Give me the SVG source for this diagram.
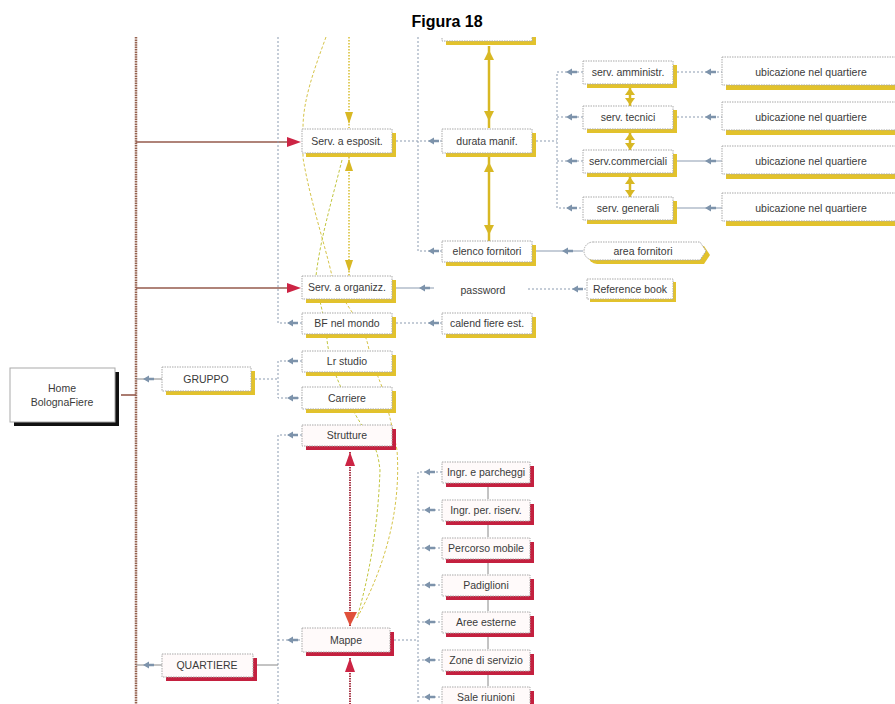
<svg xmlns="http://www.w3.org/2000/svg" xmlns:xlink="http://www.w3.org/1999/xlink" width="895" height="704" viewBox="0 0 895 704">
<style>
.t{font-family:"Liberation Sans",Arial,sans-serif;font-size:10.5px;fill:#3a3a3a;text-anchor:middle;dominant-baseline:central}
.title{font-family:"Liberation Sans",Arial,sans-serif;font-size:16px;font-weight:bold;fill:#000;text-anchor:middle}
.bx{fill:#fff;stroke:#a9a9a9;stroke-width:1;stroke-dasharray:1.5 1}
.rbx{fill:#fffafa;stroke:#a9a9a9;stroke-width:1;stroke-dasharray:1.5 1}
.ys{fill:#e2c22c}
.rs{fill:#c4203f}
.ks{fill:#111}
.dot{fill:none;stroke:#8b9bb0;stroke-width:1;stroke-dasharray:2 2}
.sol{fill:none;stroke:#8b9bb0;stroke-width:1}
.gl{fill:none;stroke:#888;stroke-width:1}
.brown{fill:none;stroke:#955a4c;stroke-width:1.6}
.trunk{fill:none;stroke:#95624f;stroke-width:2.5;stroke-dasharray:1.6 0.8}
.yl{fill:none;stroke:#d8b824;stroke-width:2.5}
.yd{fill:none;stroke:#d8bf30;stroke-width:1.5;stroke-dasharray:1.5 1.5}
.yc{fill:none;stroke:#d6c44a;stroke-width:1;stroke-dasharray:3 2}
.ya{fill:#d8b824}
.rl{fill:none;stroke:#a83a4a;stroke-width:2;stroke-dasharray:1.5 1}
.ra{fill:#cc2444}
.ba{fill:#7d93ab}
</style>
<defs>
<path id="ba" d="M0,0 L6,-3.5 L6,-1.2 L11,-1.2 L11,1.2 L6,1.2 L6,3.5 Z"/>
<clipPath id="clip"><rect x="0" y="37" width="895" height="667"/></clipPath>
</defs>
<text class="title" x="447" y="27">Figura 18</text>
<g clip-path="url(#clip)">
<g id="connectors">
<line class="trunk" x1="136" y1="37" x2="136" y2="704"/>
<line class="brown" x1="136" y1="142" x2="288" y2="142"/>
<polygon class="ra" points="301,142 287,137 287,147"/>
<line class="brown" x1="136" y1="288" x2="288" y2="288"/>
<polygon class="ra" points="301,288 287,283 287,293"/>
<line class="brown" x1="121" y1="395" x2="136" y2="395"/>
<line class="gl" x1="136" y1="379" x2="162" y2="379"/>
<use class="ba" xlink:href="#ba" x="143" y="379"/>
<line class="gl" x1="136" y1="665" x2="162" y2="665"/>
<use class="ba" xlink:href="#ba" x="143" y="665"/>
<polyline class="dot" points="278,37 278,323 302,323"/>
<use class="ba" xlink:href="#ba" x="287" y="323"/>
<polyline class="dot" points="255,379 278,379"/>
<polyline class="dot" points="302,361 278,361 278,398 302,398"/>
<use class="ba" xlink:href="#ba" x="287" y="361"/>
<use class="ba" xlink:href="#ba" x="287" y="398"/>
<polyline class="dot" points="302,435 278,435 278,704"/>
<line class="gl" x1="257" y1="665" x2="278" y2="665"/>
<line class="dot" x1="278" y1="640" x2="302" y2="640"/>
<use class="ba" xlink:href="#ba" x="287" y="435"/>
<use class="ba" xlink:href="#ba" x="287" y="640"/>
<polyline class="dot" points="396,141 442,141"/>
<polyline class="dot" points="418,37 418,251 442,251"/>
<use class="ba" xlink:href="#ba" x="428" y="141"/>
<use class="ba" xlink:href="#ba" x="428" y="251"/>
<polyline class="dot" points="536,141 557,141"/>
<polyline class="dot" points="583,72 557,72 557,208 583,208"/>
<line class="dot" x1="557" y1="117" x2="583" y2="117"/>
<line class="dot" x1="557" y1="161" x2="583" y2="161"/>
<use class="ba" xlink:href="#ba" x="566" y="72"/>
<use class="ba" xlink:href="#ba" x="566" y="117"/>
<use class="ba" xlink:href="#ba" x="566" y="161"/>
<use class="ba" xlink:href="#ba" x="566" y="208"/>
<line class="dot" x1="677" y1="72" x2="722" y2="72"/>
<line class="dot" x1="677" y1="117" x2="722" y2="117"/>
<line class="sol" x1="677" y1="161" x2="722" y2="161"/>
<line class="sol" x1="677" y1="208" x2="722" y2="208"/>
<use class="ba" xlink:href="#ba" x="705" y="72"/>
<use class="ba" xlink:href="#ba" x="705" y="117"/>
<use class="ba" xlink:href="#ba" x="705" y="161"/>
<use class="ba" xlink:href="#ba" x="705" y="208"/>
<line class="sol" x1="536" y1="251" x2="583" y2="251"/>
<use class="ba" xlink:href="#ba" x="562" y="251"/>
<line class="sol" x1="396" y1="288" x2="434" y2="288"/>
<use class="ba" xlink:href="#ba" x="419" y="288"/>
<line class="dot" x1="528" y1="289" x2="587" y2="289"/>
<use class="ba" xlink:href="#ba" x="572" y="289"/>
<line class="dot" x1="396" y1="323" x2="442" y2="323"/>
<use class="ba" xlink:href="#ba" x="428" y="323"/>
<polyline class="dot" points="394,640 418,640"/>
<polyline class="dot" points="442,472 418,472 418,704"/>
<line class="dot" x1="418" y1="510" x2="442" y2="510"/>
<line class="dot" x1="418" y1="548" x2="442" y2="548"/>
<line class="dot" x1="418" y1="585" x2="442" y2="585"/>
<line class="dot" x1="418" y1="622" x2="442" y2="622"/>
<line class="dot" x1="418" y1="660" x2="442" y2="660"/>
<line class="dot" x1="418" y1="697" x2="442" y2="697"/>
<use class="ba" xlink:href="#ba" x="424" y="472"/>
<use class="ba" xlink:href="#ba" x="424" y="510"/>
<use class="ba" xlink:href="#ba" x="424" y="548"/>
<use class="ba" xlink:href="#ba" x="424" y="585"/>
<use class="ba" xlink:href="#ba" x="424" y="622"/>
<use class="ba" xlink:href="#ba" x="424" y="660"/>
<use class="ba" xlink:href="#ba" x="424" y="697"/>
<line class="gl" x1="488" y1="487" x2="488" y2="499"/>
<line class="gl" x1="488" y1="525" x2="488" y2="537"/>
<line class="gl" x1="488" y1="563" x2="488" y2="574"/>
<line class="gl" x1="488" y1="600" x2="488" y2="611"/>
<line class="gl" x1="488" y1="637" x2="488" y2="649"/>
<line class="gl" x1="488" y1="675" x2="488" y2="686"/>
<line class="yl" x1="489" y1="46" x2="489" y2="128"/>
<polygon class="ya" points="489,50 484,60 494,60"/>
<polygon class="ya" points="489,121 484,111 494,111"/>
<line class="yl" x1="489" y1="157" x2="489" y2="241"/>
<polygon class="ya" points="489,162 484,172 494,172"/>
<polygon class="ya" points="489,235 484,225 494,225"/>
<line class="yl" x1="630" y1="88" x2="630" y2="106"/>
<polygon class="ya" points="630,88 625,95 635,95"/>
<polygon class="ya" points="630,105 625,98 635,98"/>
<line class="yl" x1="630" y1="133" x2="630" y2="150"/>
<polygon class="ya" points="630,133 625,140 635,140"/>
<polygon class="ya" points="630,150 625,143 635,143"/>
<line class="yl" x1="630" y1="177" x2="630" y2="197"/>
<polygon class="ya" points="630,177 625,184 635,184"/>
<polygon class="ya" points="630,197 625,190 635,190"/>
<line class="yd" x1="349" y1="37" x2="349" y2="128"/>
<polygon class="ya" points="349,124 345,112 353,112"/>
<line class="yd" x1="349" y1="157" x2="349" y2="276"/>
<polygon class="ya" points="349,159 345,171 353,171"/>
<polygon class="ya" points="349,272 345,260 353,260"/>
<path class="yc" d="M326,37 C314,70 303,100 303,128 L303,158 C310,200 325,245 332,276 C340,300 362,320 368,345 C372,365 380,380 383,390 C388,410 392,425 397,450 C402,520 378,580 357,618"/>
<path class="yc" style="stroke:#c2c640" d="M342,160 C332,200 320,240 316,276 C318,300 326,320 327,340 C330,365 338,380 342,390 C350,405 358,420 365,430 C375,445 378,452 380,470 C378,530 368,580 357,618"/>
<line class="rl" x1="350" y1="452" x2="350" y2="627"/>
<polygon class="ra" points="350,452 345,466 355,466"/>
<polygon class="ra" style="fill:#e0503a" points="350,626 344,612 357,612"/>
<line class="rl" x1="350" y1="658" x2="350" y2="704"/>
<polygon class="ra" points="350,658 345,672 355,672"/>
</g>
<g id="n-top"><rect class="ys" x="446" y="14" width="90" height="31"/><rect class="bx" x="442" y="10" width="90" height="31"/></g>
<g id="n-espositori"><rect class="ys" x="306" y="133" width="90" height="24"/><rect class="bx" x="302" y="129" width="90" height="24"/><text class="t" x="347" y="141">Serv. a esposit.</text></g>
<g id="n-durata"><rect class="ys" x="446" y="133" width="90" height="24"/><rect class="bx" x="442" y="129" width="90" height="24"/><text class="t" x="487" y="141">durata  manif.</text></g>
<g id="n-amministr"><rect class="ys" x="587" y="65" width="90" height="23"/><rect class="bx" x="583" y="61" width="90" height="23"/><text class="t" x="628" y="72">serv. amministr.</text></g>
<g id="n-tecnici"><rect class="ys" x="587" y="110" width="90" height="23"/><rect class="bx" x="583" y="106" width="90" height="23"/><text class="t" x="628" y="117">serv. tecnici</text></g>
<g id="n-commerciali"><rect class="ys" x="587" y="154" width="90" height="23"/><rect class="bx" x="583" y="150" width="90" height="23"/><text class="t" x="628" y="161">serv.commerciali</text></g>
<g id="n-generali"><rect class="ys" x="587" y="201" width="90" height="23"/><rect class="bx" x="583" y="197" width="90" height="23"/><text class="t" x="628" y="208">serv. generali</text></g>
<g id="n-ubic1"><rect class="ys" x="726" y="62" width="180" height="28"/><rect class="bx" x="722" y="57" width="180" height="28"/><text class="t" x="811" y="72">ubicazione nel quartiere</text></g>
<g id="n-ubic2"><rect class="ys" x="726" y="107" width="180" height="28"/><rect class="bx" x="722" y="102" width="180" height="28"/><text class="t" x="811" y="117">ubicazione nel quartiere</text></g>
<g id="n-ubic3"><rect class="ys" x="726" y="151" width="180" height="28"/><rect class="bx" x="722" y="146" width="180" height="28"/><text class="t" x="811" y="161">ubicazione nel quartiere</text></g>
<g id="n-ubic4"><rect class="ys" x="726" y="198" width="180" height="28"/><rect class="bx" x="722" y="193" width="180" height="28"/><text class="t" x="811" y="208">ubicazione nel quartiere</text></g>
<g id="n-elenco"><rect class="ys" x="446" y="245" width="90" height="21"/><rect class="bx" x="442" y="241" width="90" height="21"/><text class="t" x="487" y="251">elenco fornitori</text></g>
<g id="n-area"><path class="ys" d="M597,246 H704 L710,255 L704,264 H597 A9,9 0 0 1 597,246 Z"/><path class="bx" d="M593,242 H700 L706,251 L700,260 H593 A9,9 0 0 1 593,242 Z"/><text class="t" x="643" y="251">area fornitori</text></g>
<g id="n-organizz"><rect class="ys" x="306" y="280" width="90" height="23"/><rect class="bx" x="302" y="276" width="90" height="23"/><text class="t" x="347" y="287">Serv. a organizz.</text></g>
<g id="n-password"><text class="t" x="483" y="290">password</text></g>
<g id="n-reference"><rect class="ys" x="590" y="282" width="86" height="20"/><rect class="bx" x="587" y="279" width="86" height="20"/><text class="t" x="630" y="289">Reference book</text></g>
<g id="n-bf"><rect class="ys" x="306" y="317" width="90" height="21"/><rect class="bx" x="302" y="313" width="90" height="21"/><text class="t" x="347" y="323">BF nel mondo</text></g>
<g id="n-calend"><rect class="ys" x="446" y="317" width="90" height="21"/><rect class="bx" x="442" y="313" width="90" height="21"/><text class="t" x="487" y="323">calend fiere est.</text></g>
<g id="n-home"><rect class="ks" x="14" y="372" width="105" height="54"/><rect class="bx" style="stroke-dasharray:none" x="10" y="368" width="105" height="54"/><text class="t" x="62" y="388">Home</text><text class="t" x="62" y="402">BolognaFiere</text></g>
<g id="n-gruppo"><rect class="ys" x="166" y="371" width="89" height="24"/><rect class="bx" x="162" y="367" width="89" height="24"/><text class="t" x="206" y="379">GRUPPO</text></g>
<g id="n-studio"><rect class="ys" x="306" y="355" width="90" height="21"/><rect class="bx" x="302" y="351" width="90" height="21"/><text class="t" x="347" y="361">Lr studio</text></g>
<g id="n-carriere"><rect class="ys" x="306" y="391" width="90" height="22"/><rect class="bx" x="302" y="387" width="90" height="22"/><text class="t" x="347" y="398">Carriere</text></g>
<g id="n-strutture"><rect class="rs" x="306" y="429" width="90" height="21"/><rect class="rbx" x="302" y="425" width="90" height="21"/><text class="t" x="347" y="435">Strutture</text></g>
<g id="n-mappe"><rect class="rs" x="306" y="632" width="88" height="24"/><rect class="rbx" x="302" y="628" width="88" height="24"/><text class="t" x="346" y="640">Mappe</text></g>
<g id="n-quartiere"><rect class="rs" x="166" y="658" width="91" height="23"/><rect class="rbx" x="162" y="654" width="91" height="23"/><text class="t" x="207" y="665">QUARTIERE</text></g>
<g id="n-ingr1"><rect class="rs" x="446" y="466" width="88" height="21"/><rect class="rbx" x="442" y="462" width="88" height="21"/><text class="t" x="486" y="472">Ingr. e parcheggi</text></g>
<g id="n-ingr2"><rect class="rs" x="446" y="504" width="88" height="21"/><rect class="rbx" x="442" y="500" width="88" height="21"/><text class="t" x="486" y="510">Ingr. per. riserv.</text></g>
<g id="n-percorso"><rect class="rs" x="446" y="542" width="88" height="21"/><rect class="rbx" x="442" y="538" width="88" height="21"/><text class="t" x="486" y="548">Percorso mobile</text></g>
<g id="n-padiglioni"><rect class="rs" x="446" y="579" width="88" height="21"/><rect class="rbx" x="442" y="575" width="88" height="21"/><text class="t" x="486" y="585">Padiglioni</text></g>
<g id="n-aree"><rect class="rs" x="446" y="616" width="88" height="21"/><rect class="rbx" x="442" y="612" width="88" height="21"/><text class="t" x="486" y="622">Aree esterne</text></g>
<g id="n-zone"><rect class="rs" x="446" y="654" width="88" height="21"/><rect class="rbx" x="442" y="650" width="88" height="21"/><text class="t" x="486" y="660">Zone di servizio</text></g>
<g id="n-sale"><rect class="rs" x="446" y="691" width="88" height="21"/><rect class="rbx" x="442" y="687" width="88" height="21"/><text class="t" x="486" y="697">Sale riunioni</text></g>
</g>
</svg>
